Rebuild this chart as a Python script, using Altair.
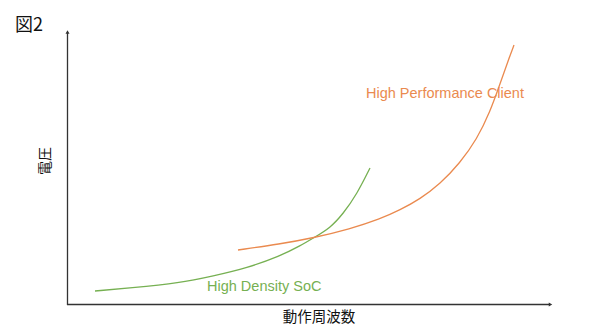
import altair as alt
import pandas as pd

# High Density SoC (green)
hd_freq = [28, 63, 113, 146, 180, 213, 233, 248, 263, 276, 290, 303]
hd_volt = [14, 17, 22, 29, 37, 49, 59, 68, 77, 91, 111, 137]
# High Performance Client (orange)
hp_freq = [171, 213, 246, 283, 313, 333, 353, 373, 393, 410, 423, 433, 441, 447]
hp_volt = [55, 61, 67, 76, 86, 95, 106, 121, 142, 166, 193, 221, 244, 260]

series_names = ["High Density SoC", "High Performance Client"]
series_colors = ["#76B052", "#EA8A4F"]

W, H = 485, 275
X_MAX = 485
Y_MAX = 275

rows = []
for f, v in zip(hd_freq, hd_volt):
    rows.append({"freq": f, "volt": v, "series": series_names[0]})
for f, v in zip(hp_freq, hp_volt):
    rows.append({"freq": f, "volt": v, "series": series_names[1]})
df = pd.DataFrame(rows)

labels = pd.DataFrame({
    "freq": [140, 299],
    "volt": [18, 211],
    "series": series_names,
})

xs = alt.Scale(domain=[0, X_MAX], nice=False, zero=False)
ys = alt.Scale(domain=[0, Y_MAX], nice=False, zero=False)
cs = alt.Scale(domain=series_names, range=series_colors)

lines = alt.Chart(df).mark_line(strokeWidth=1.3, interpolate="basis").encode(
    x=alt.X("freq:Q", scale=xs, axis=None),
    y=alt.Y("volt:Q", scale=ys, axis=None),
    color=alt.Color("series:N", scale=cs, legend=None),
    detail="series:N",
)

texts = alt.Chart(labels).mark_text(
    align="left", baseline="middle", font="Liberation Sans", fontSize=14.5
).encode(
    x=alt.X("freq:Q", scale=xs, axis=None),
    y=alt.Y("volt:Q", scale=ys, axis=None),
    text="series:N",
    color=alt.Color("series:N", scale=cs, legend=None),
)

axis_color = "#333333"
one = pd.DataFrame({"a": [0]})
yaxis = alt.Chart(one).mark_rule(color=axis_color, strokeWidth=1.3).encode(
    x=alt.value(0.5), y=alt.value(H), y2=alt.value(2)
)
xaxis = alt.Chart(one).mark_rule(color=axis_color, strokeWidth=1.3).encode(
    x=alt.value(0), x2=alt.value(W - 2), y=alt.value(H - 0.5)
)
yarrow = alt.Chart(one).mark_point(
    shape="triangle-up", filled=True, size=16, color=axis_color, opacity=1
).encode(x=alt.value(0.5), y=alt.value(2))
xarrow = alt.Chart(one).mark_point(
    shape="triangle-right", filled=True, size=16, color=axis_color, opacity=1
).encode(x=alt.value(W - 1.5), y=alt.value(H - 0.5))

title = alt.Chart(pd.DataFrame({"t": ["図2"]})).mark_text(
    align="left", baseline="middle", font="Noto Sans CJK JP", fontSize=18, color="#111111"
).encode(x=alt.value(-52), y=alt.value(-4), text="t:N")

ylabel = alt.Chart(pd.DataFrame({"t": ["電圧"]})).mark_text(
    align="center", baseline="middle", font="Noto Sans CJK JP", fontSize=14, angle=270, color="#111111"
).encode(x=alt.value(-21), y=alt.value(131), text="t:N")

xlabel = alt.Chart(pd.DataFrame({"t": ["動作周波数"]})).mark_text(
    align="center", baseline="middle", font="Noto Sans CJK JP", fontSize=14.5, color="#111111"
).encode(x=alt.value(252), y=alt.value(288), text="t:N")

chart = alt.layer(yaxis, xaxis, yarrow, xarrow, lines, texts, title, ylabel, xlabel).properties(
    width=W, height=H,
    padding={"left": 67, "top": 30, "right": 590 - 67 - W, "bottom": 333 - 30 - H},
    autosize=alt.AutoSizeParams(type="none"),
    background="white",
).configure_view(stroke=None)

chart.save("out.html", embed_options={"renderer": "svg", "actions": False})
